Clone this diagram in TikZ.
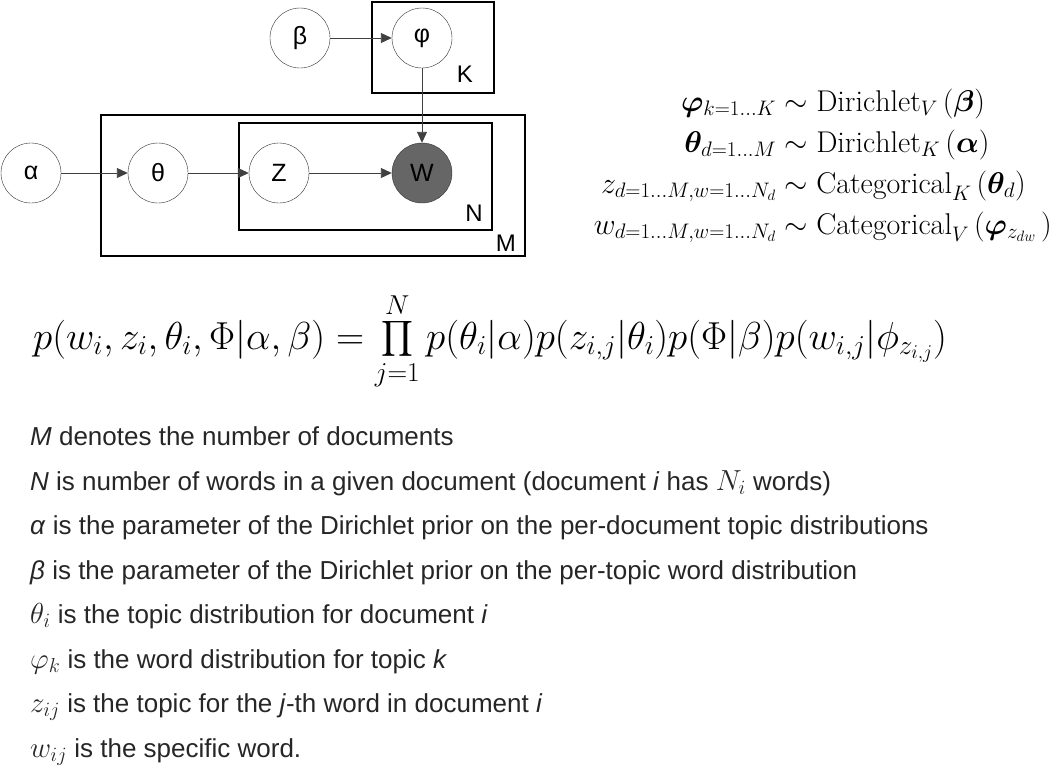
\RequirePackage{fix-cm}
\documentclass[tikz,border=0pt]{standalone}
\usepackage{amsmath}
\usepackage{bm}
\usepackage{fontspec}
\setsansfont{Liberation Sans}
\usetikzlibrary{arrows.meta, positioning}

\newcommand{\notemath}[1]{{\fontsize{29}{29}\selectfont$#1$}}

\tikzset{
  var/.style   ={circle, draw=black!80, fill=white, thin, minimum size=60pt, inner sep=0pt,
                 font=\sffamily\fontsize{25}{25}\selectfont},
  obs/.style   ={var, fill=black!60},
  plate/.style ={rectangle, draw=black, line width=1.8pt, inner sep=0pt},
  tag/.style   ={anchor=base east, inner sep=0pt, font=\sffamily\fontsize{24}{24}\selectfont},
  flow/.style  ={-{Triangle[length=11pt, width=10pt]}, draw=black!75, line width=0.9pt},
  note/.style  ={anchor=base west, inner sep=0pt, text=black!85,
                 font=\sffamily\fontsize{26}{26}\selectfont},
}

\begin{document}
\begin{tikzpicture}[x=1pt, y=-1pt]
    \useasboundingbox (0,0) rectangle (1062,782);
    % plates
    \node[plate, minimum width=122pt, minimum height=91pt] (plateK) at (433,47.5) {};
    \node[plate, minimum width=424pt, minimum height=141pt] (plateM) at (313,185.5) {};
    \node[plate, minimum width=253pt, minimum height=107pt] (plateN) at (365.5,176.5) {};
    \node[tag] (labK) at (473,82) {K};
    \node[tag] (labN) at (483,221) {N};
    \node[tag] (labM) at (516,251) {M};
    % variables
    \node[var] (beta) at (300,38) {β};
    \node[var] (phi) at (422,38) {φ};
    \node[var] (alpha) at (31,173) {α};
    \node[var] (theta) at (158,173) {θ};
    \node[var] (z) at (279,173) {Z};
    \node[obs] (w) at (422,173) {W};
    \draw[flow] (beta) -- (phi);
    \draw[flow] (phi) -- (w);
    \draw[flow] (alpha) -- (theta);
    \draw[flow] (theta) -- (z);
    \draw[flow] (z) -- (w);
    % generative process
    \node[anchor=east, inner sep=0pt, font=\fontsize{30}{38}\selectfont] (gen) at (1052,165) {$\begin{aligned}
      \bm{\varphi}_{k=1\dots K} &\sim \mathrm{Dirichlet}_V\,(\bm{\beta})\\
      \bm{\theta}_{d=1\dots M} &\sim \mathrm{Dirichlet}_K\,(\bm{\alpha})\\
      z_{d=1\dots M,w=1\dots N_d} &\sim \mathrm{Categorical}_K\,(\bm{\theta}_d)\\
      w_{d=1\dots M,w=1\dots N_d} &\sim \mathrm{Categorical}_V\,(\bm{\varphi}_{z_{dw}}\,)
    \end{aligned}$};
    % joint distribution
    \node[anchor=base west, inner sep=0pt, font=\fontsize{39}{46}\selectfont] (joint) at (33,349)
      {$\displaystyle p(w_i,z_i,\theta_i,\Phi|\alpha,\beta)=\prod_{j=1}^{N}p(\theta_i|\alpha)p(z_{i,j}|\theta_i)p(\Phi|\beta)p(w_{i,j}|\phi_{z_{i,j}})$};
    % legend
    \node[note] (n1) at (30,445) {\textit{M} denotes the number of documents};
    \node[note] (n2) at (30,490) {\textit{N} is number of words in a given document (document \textit{i} has \notemath{N_i} words)};
    \node[note] (n3) at (30,534) {\textit{α} is the parameter of the Dirichlet prior on the per-document topic distributions};
    \node[note] (n4) at (30,579) {\textit{β} is the parameter of the Dirichlet prior on the per-topic word distribution};
    \node[note] (n5) at (30,623) {\notemath{\theta_i} is the topic distribution for document \textit{i}};
    \node[note] (n6) at (30,668) {\notemath{\varphi_k} is the word distribution for topic \textit{k}};
    \node[note] (n7) at (30,712) {\notemath{z_{ij}} is the topic for the \textit{j}-th word in document \textit{i}};
    \node[note] (n8) at (30,757) {\notemath{w_{ij}} is the specific word.};
\end{tikzpicture}
\end{document}
